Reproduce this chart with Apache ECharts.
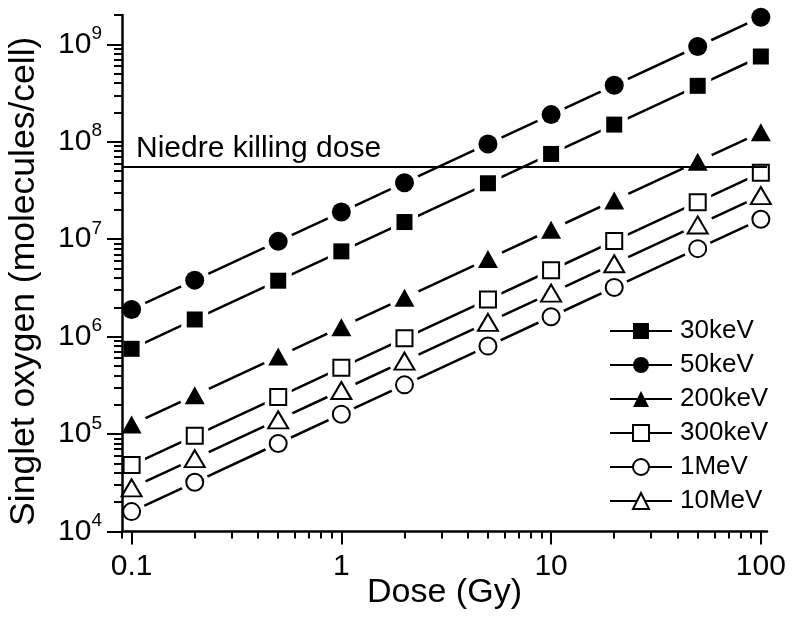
<!DOCTYPE html>
<html><head><meta charset="utf-8">
<script src="https://cdn.jsdelivr.net/npm/echarts@6/dist/echarts.min.js"></script>
<style>html,body{margin:0;padding:0;background:#fff}#c{width:800px;height:625px}</style>
</head><body><div id="c"></div>
<script>
// ---- data ----
const doses = [0.1, 0.2, 0.5, 1, 2, 5, 10, 20, 50, 100];
const seriesNames = ['30keV', '50keV', '200keV', '300keV', '1MeV', '10MeV'];
const v30keV  = [7.5e5, 1.5e6, 3.75e6, 7.5e6, 1.5e7, 3.75e7, 7.5e7, 1.5e8, 3.75e8, 7.5e8];
const v50keV  = [1.9e6, 3.8e6, 9.5e6, 1.9e7, 3.8e7, 9.5e7, 1.9e8, 3.8e8, 9.5e8, 1.9e9];
const v200keV = [1.25e5, 2.5e5, 6.25e5, 1.25e6, 2.5e6, 6.25e6, 1.25e7, 2.5e7, 6.25e7, 1.25e8];
const v300keV = [4.8e4, 9.6e4, 2.4e5, 4.8e5, 9.6e5, 2.4e6, 4.8e6, 9.6e6, 2.4e7, 4.8e7];
const v1MeV   = [1.6e4, 3.2e4, 8e4, 1.6e5, 3.2e5, 8e5, 1.6e6, 3.2e6, 8e6, 1.6e7];
const v10MeV  = [2.8e4, 5.6e4, 1.4e5, 2.8e5, 5.6e5, 1.4e6, 2.8e6, 5.6e6, 1.4e7, 2.8e7];
const killingDose = 5.6e7;
const killingLabel = 'Niedre killing dose';
const xMajorTicks = [0.1, 1, 10, 100];
const xMinorTicks = [0.09, 0.2, 0.3, 0.4, 0.5, 0.6, 0.7, 0.8, 0.9, 2, 3, 4, 5, 6, 7, 8, 9, 20, 30, 40, 50, 60, 70, 80, 90];
const yMajorTicks = [1e4, 1e5, 1e6, 1e7, 1e8, 1e9];
const yMinorTicks = [2e4,3e4,4e4,5e4,6e4,7e4,8e4,9e4, 2e5,3e5,4e5,5e5,6e5,7e5,8e5,9e5,
  2e6,3e6,4e6,5e6,6e6,7e6,8e6,9e6, 2e7,3e7,4e7,5e7,6e7,7e7,8e7,9e7,
  2e8,3e8,4e8,5e8,6e8,7e8,8e8,9e8, 2e9];
const xTitle = 'Dose (Gy)';
const yTitle = 'Singlet oxygen (molecules/cell)';

// ---- styles ----
const FONT = "'Liberation Sans', Arial, Helvetica, sans-serif";
const allValues = [v30keV, v50keV, v200keV, v300keV, v1MeV, v10MeV];
const styles = [
  { sym: 'rect', halo: 'rect', size: 16 },
  { sym: 'circle', halo: 'circle', size: 19 },
  { sym: 'triangle', halo: 'circle', size: [20, 18] },
  { sym: 'emptyRect', halo: 'rect', size: 16 },
  { sym: 'emptyCircle', halo: 'circle', size: 17 },
  { sym: 'emptyTriangle', halo: 'circle', size: [20, 17] }
];
function grow(s, d) { return Array.isArray(s) ? Math.max(s[0], s[1]) + d : s + d; }

const series = [];
seriesNames.forEach((name, i) => {
  const data = doses.map((d, j) => [d, allValues[i][j]]);
  const st = styles[i];
  const empty = st.sym.indexOf('empty') === 0;
  series.push({
    name, type: 'line', data, z: 2,
    symbol: st.sym, symbolSize: st.size, showSymbol: true,
    lineStyle: { color: '#000', width: 2.5 },
    itemStyle: { color: '#000', borderColor: '#000', borderWidth: empty ? 2 : 0 },
    emphasis: { disabled: true }, silent: true
  });
  series.push({
    name: name + '_halo', type: 'scatter', data, z: 3,
    symbol: st.halo, symbolSize: grow(st.size, 11),
    itemStyle: { color: '#ffffff', opacity: 1 },
    emphasis: { disabled: true }, silent: true
  });
  const mk = {
    name: name + '_mark', type: 'scatter', data, z: 4,
    symbol: st.sym, symbolSize: st.size,
    itemStyle: { color: '#000', borderColor: '#000', borderWidth: empty ? 2 : 0, opacity: 1 },
    emphasis: { disabled: true }, silent: true
  };
  if (i === 0) {
    mk.markLine = {
      silent: true, symbol: 'none',
      lineStyle: { color: '#000', width: 2, type: 'solid' },
      label: { show: true, position: 'insideStartTop', formatter: killingLabel,
        color: '#000', fontSize: 30, fontFamily: FONT, distance: [14, 3] },
      data: [{ yAxis: killingDose }]
    };
  }
  series.push(mk);
});

const chart = echarts.init(document.getElementById('c'), null, { renderer: 'canvas' });
chart.setOption({
  animation: false,
  backgroundColor: '#fff',
  grid: { left: 122, right: 33, top: 15, bottom: 93.5, containLabel: false, outerBoundsMode: 'none' },
  legend: {
    data: seriesNames, orient: 'vertical', left: 604, top: 313, padding: 5,
    itemWidth: 62, itemHeight: 20, itemGap: 8, selectedMode: false,
    textStyle: { fontSize: 26, fontFamily: FONT, color: '#000', lineHeight: 25, padding: [0, 0, 0, 3] }
  },
  xAxis: [
    {
      type: 'log', logBase: 10, min: 0.09, max: 107, position: 'bottom', z: 6,
      axisLine: { show: true, onZero: false, lineStyle: { color: '#000', width: 2.5 } },
      axisTick: { show: true, inside: false, length: 13, customValues: xMajorTicks, lineStyle: { color: '#000', width: 2 } },
      axisLabel: { show: true, customValues: xMajorTicks, margin: 20, fontSize: 30, fontFamily: FONT, color: '#000',
        formatter: v => String(Number(Number(v).toPrecision(3))) },
      splitLine: { show: false }, minorTick: { show: false },
      name: xTitle, nameLocation: 'middle', nameGap: 44, nameMoveOverlap: false,
      nameTextStyle: { fontSize: 34, fontFamily: FONT, color: '#000' }
    },
    {
      type: 'log', logBase: 10, min: 0.09, max: 107, position: 'bottom', z: 6,
      axisLine: { show: false, onZero: false },
      axisTick: { show: true, inside: false, length: 7, customValues: xMinorTicks, lineStyle: { color: '#000', width: 2 } },
      axisLabel: { show: false }, splitLine: { show: false }
    }
  ],
  yAxis: [
    {
      type: 'log', logBase: 10, min: 1e4, max: 2e9, position: 'left', z: 6,
      axisLine: { show: true, onZero: false, lineStyle: { color: '#000', width: 2.5 } },
      axisTick: { show: true, inside: false, length: 15, customValues: yMajorTicks, lineStyle: { color: '#000', width: 2 } },
      axisLabel: { show: true, customValues: yMajorTicks, margin: 20, color: '#000',
        formatter: v => '{b|10}{s|' + Math.round(Math.log10(v)) + '}',
        rich: {
          b: { fontSize: 30, fontFamily: FONT, color: '#000', lineHeight: 30, verticalAlign: 'bottom' },
          s: { fontSize: 19, fontFamily: FONT, color: '#000', lineHeight: 19, verticalAlign: 'bottom', padding: [0, 0, 16, 0] }
        } },
      splitLine: { show: false }, minorTick: { show: false },
      name: yTitle, nameLocation: 'middle', nameGap: 80, nameMoveOverlap: false,
      nameTextStyle: { fontSize: 35.5, fontFamily: FONT, color: '#000', padding: [0, 16, 0, 0] }
    },
    {
      type: 'log', logBase: 10, min: 1e4, max: 2e9, position: 'left', z: 6,
      axisLine: { show: false, onZero: false },
      axisTick: { show: true, inside: false, length: 8, customValues: yMinorTicks, lineStyle: { color: '#000', width: 2 } },
      axisLabel: { show: false }, splitLine: { show: false }
    }
  ],
  series
});
</script>
</body></html>
